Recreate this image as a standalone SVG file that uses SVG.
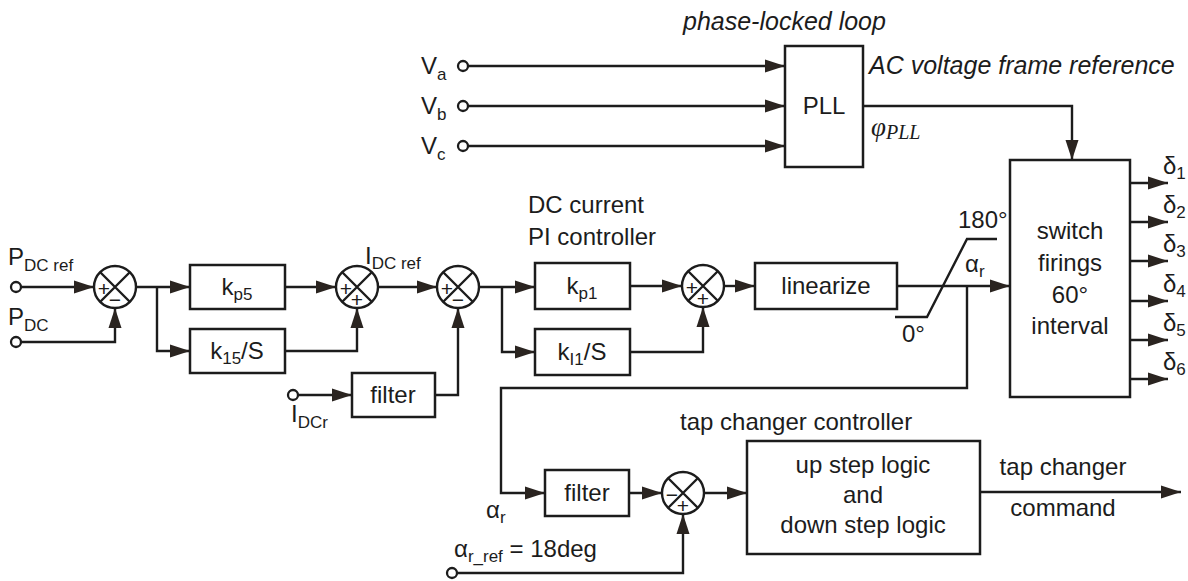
<svg xmlns="http://www.w3.org/2000/svg" width="1188" height="581" viewBox="0 0 1188 581">
<defs>
<marker id="ah" markerWidth="21" markerHeight="15" refX="20" refY="7.5" orient="auto" markerUnits="userSpaceOnUse">
<path d="M0,1 L20,7.5 L0,14 z" fill="#2a2420"/>
</marker>
<style>
.ln{fill:none;stroke:#1c1c1c;stroke-width:2.4}
.ar{fill:none;stroke:#1c1c1c;stroke-width:2.4;marker-end:url(#ah)}
.bx{fill:#fff;stroke:#1c1c1c;stroke-width:2.5}
.tm{fill:#fff;stroke:#1c1c1c;stroke-width:2.3}
.t{font-family:"Liberation Sans",Arial,sans-serif;font-size:24px;fill:#1c1c1c}
.c{text-anchor:middle}
.sub{font-size:17px}
.it{font-style:italic;font-size:25px}
.sg{font-family:"Liberation Sans",Arial,sans-serif;font-size:21px;fill:#1c1c1c;text-anchor:middle}
.phi{font-family:"Liberation Serif","Times New Roman",serif;font-style:italic;fill:#1c1c1c}
</style>
</defs>
<rect width="1188" height="581" fill="#fff"/>

<g id="connectors">
<path class="ar" d="M21,287 H94"/>
<path class="ar" d="M21,342 H115 V308"/>
<path class="ar" d="M136,287 H190"/>
<path class="ar" d="M157,287 V351 H190"/>
<path class="ar" d="M285,287 H336"/>
<path class="ar" d="M285,351 H357 V308"/>
<path class="ar" d="M378,287 H437"/>
<path class="ar" d="M298,395 H352"/>
<path class="ar" d="M435,395 H458 V308"/>
<path class="ar" d="M479,287 H535"/>
<path class="ar" d="M502,287 V352 H535"/>
<path class="ar" d="M630,286 H682"/>
<path class="ar" d="M630,352 H703 V307"/>
<path class="ar" d="M724,286 H755"/>
<path class="ar" d="M897,286 H1010"/>
<path class="ln" d="M895,317 H927 L967,239 H997"/>
<path class="ar" d="M967,286 V388 H501 V493 H545"/>
<path class="ar" d="M629,493 H662"/>
<path class="ar" d="M704,493 H747"/>
<path class="ar" d="M457,573 H683 V514"/>
<path class="ar" d="M980,492 H1181"/>
<path class="ar" d="M468,66 H785"/>
<path class="ar" d="M468,106 H785"/>
<path class="ar" d="M468,146 H785"/>
<path class="ar" d="M863,106 H1072 V160"/>
<path class="ar" d="M1130,183 H1168"/>
<path class="ar" d="M1130,222 H1168"/>
<path class="ar" d="M1130,261 H1168"/>
<path class="ar" d="M1130,301 H1168"/>
<path class="ar" d="M1130,340 H1168"/>
<path class="ar" d="M1130,379 H1168"/>
</g>

<g id="terminals">
<circle class="tm" cx="16" cy="287" r="5"/>
<circle class="tm" cx="16" cy="342" r="5"/>
<circle class="tm" cx="293" cy="395" r="5"/>
<circle class="tm" cx="452" cy="573" r="5"/>
<circle class="tm" cx="463" cy="66" r="5"/>
<circle class="tm" cx="463" cy="106" r="5"/>
<circle class="tm" cx="463" cy="146" r="5"/>
</g>

<g id="sum1">
<circle class="ln" cx="115" cy="287" r="21"/>
<path class="ln" d="M100,272 L130,302 M130,272 L100,302"/>
<text class="sg" x="104" y="296">+</text><text class="sg" x="115" y="307">−</text>
</g>
<g id="sum2">
<circle class="ln" cx="357" cy="287" r="21"/>
<path class="ln" d="M342,272 L372,302 M372,272 L342,302"/>
<text class="sg" x="346" y="296">+</text><text class="sg" x="357" y="307">+</text>
</g>
<g id="sum3">
<circle class="ln" cx="458" cy="287" r="21"/>
<path class="ln" d="M443,272 L473,302 M473,272 L443,302"/>
<text class="sg" x="447" y="296">+</text><text class="sg" x="458" y="307">−</text>
</g>
<g id="sum4">
<circle class="ln" cx="703" cy="286" r="21"/>
<path class="ln" d="M688,271 L718,301 M718,271 L688,301"/>
<text class="sg" x="692" y="295">+</text><text class="sg" x="703" y="306">+</text>
</g>
<g id="sum5">
<circle class="ln" cx="683" cy="493" r="21"/>
<path class="ln" d="M668,478 L698,508 M698,478 L668,508"/>
<text class="sg" x="672" y="502">−</text><text class="sg" x="683" y="513">+</text>
</g>

<g id="kp5"><rect class="bx" x="190" y="265" width="95" height="44"/>
<text class="t c" x="237" y="295">k<tspan class="sub" dy="5">p5</tspan></text></g>
<g id="k15"><rect class="bx" x="190" y="329" width="95" height="44"/>
<text class="t c" x="237" y="359">k<tspan class="sub" dy="5">15</tspan><tspan dy="-5">/S</tspan></text></g>
<g id="filter1"><rect class="bx" x="352" y="373" width="83" height="44"/>
<text class="t c" x="393" y="403">filter</text></g>
<g id="kp1"><rect class="bx" x="535" y="263" width="95" height="46"/>
<text class="t c" x="582" y="294">k<tspan class="sub" dy="5">p1</tspan></text></g>
<g id="k11"><rect class="bx" x="535" y="329" width="95" height="46"/>
<text class="t c" x="582" y="360">k<tspan class="sub" dy="5">I1</tspan><tspan dy="-5">/S</tspan></text></g>
<g id="linearize"><rect class="bx" x="755" y="263" width="142" height="46"/>
<text class="t c" x="826" y="294">linearize</text></g>
<g id="pll"><rect class="bx" x="785" y="46" width="78" height="121"/>
<text class="t c" x="824" y="114">PLL</text></g>
<g id="switch"><rect class="bx" x="1010" y="160" width="120" height="237"/>
<text class="t c" x="1070" y="239">switch</text>
<text class="t c" x="1070" y="271">firings</text>
<text class="t c" x="1070" y="303">60°</text>
<text class="t c" x="1070" y="334">interval</text></g>
<g id="filter2"><rect class="bx" x="545" y="470" width="84" height="46"/>
<text class="t c" x="587" y="501">filter</text></g>
<g id="tapbox"><rect class="bx" x="747" y="441" width="233" height="113"/>
<text class="t c" x="863" y="473">up step logic</text>
<text class="t c" x="863" y="503">and</text>
<text class="t c" x="863" y="533">down step logic</text></g>

<g id="labels">
<text class="t it" x="683" y="30">phase-locked loop</text>
<text class="t it" x="869" y="74">AC voltage frame reference</text>
<text class="phi" x="871" y="136" font-size="27">φ<tspan font-size="20" dy="3">PLL</tspan></text>
<text class="t" x="421" y="74">V<tspan class="sub" dy="6">a</tspan></text>
<text class="t" x="421" y="114">V<tspan class="sub" dy="6">b</tspan></text>
<text class="t" x="421" y="154">V<tspan class="sub" dy="6">c</tspan></text>
<text class="t" x="8" y="265">P<tspan class="sub" dy="6">DC ref</tspan></text>
<text class="t" x="8" y="325">P<tspan class="sub" dy="6">DC</tspan></text>
<text class="t" x="365" y="264">I<tspan class="sub" dy="5">DC ref</tspan></text>
<text class="t" x="291" y="422">I<tspan class="sub" dy="6">DCr</tspan></text>
<text class="t" x="528" y="213">DC current</text>
<text class="t" x="528" y="245">PI controller</text>
<text class="t" x="958" y="228">180°</text>
<text class="t" x="902" y="342">0°</text>
<text class="t" x="965" y="272">α<tspan class="sub" dy="5">r</tspan></text>
<text class="t" x="1163" y="174">δ<tspan class="sub" dy="5">1</tspan></text>
<text class="t" x="1163" y="213">δ<tspan class="sub" dy="5">2</tspan></text>
<text class="t" x="1163" y="252">δ<tspan class="sub" dy="5">3</tspan></text>
<text class="t" x="1163" y="292">δ<tspan class="sub" dy="5">4</tspan></text>
<text class="t" x="1163" y="331">δ<tspan class="sub" dy="5">5</tspan></text>
<text class="t" x="1163" y="370">δ<tspan class="sub" dy="5">6</tspan></text>
<text class="t" x="680" y="430">tap changer controller</text>
<text class="t c" x="1063" y="475">tap changer</text>
<text class="t c" x="1063" y="516">command</text>
<text class="t" x="486" y="518">α<tspan class="sub" dy="5">r</tspan></text>
<text class="t" x="454" y="557">α<tspan class="sub" dy="5">r_ref</tspan><tspan dy="-5"> = 18deg</tspan></text>
</g>
</svg>
